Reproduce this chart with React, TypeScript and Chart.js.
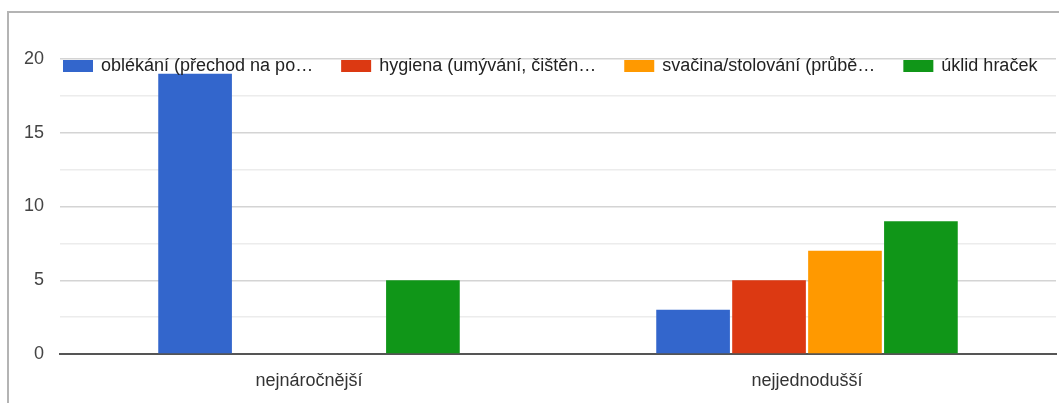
import React, { useEffect, useRef } from "react";
import { Chart, registerables } from "chart.js";

Chart.register(...registerables);

const categories = ["nejnáročnější", "nejjednodušší"];
const seriesLabels = [
  "oblékání (přechod na po…",
  "hygiena (umývání, čištěn…",
  "svačina/stolování (průbě…",
  "úklid hraček",
];
const oblekani = [19, 3];
const hygiena = [0, 5];
const svacina = [0, 7];
const uklid = [5, 9];
const colors = ["#3366cc", "#dc3912", "#ff9900", "#109618"];
const yTicks = [0, 5, 10, 15, 20];

const FONT = '"Liberation Sans", Arial, sans-serif';

const legendPlugin = {
  id: "inlineLegend",
  afterDatasetsDraw(chart: any) {
    const { ctx, chartArea } = chart;
    ctx.save();
    ctx.font = `18px ${FONT}`;
    ctx.textBaseline = "middle";
    ctx.textAlign = "left";
    let x = chartArea.left + 3;
    const y = chartArea.top + 7;
    chart.data.datasets.forEach((ds: any) => {
      ctx.fillStyle = ds.backgroundColor;
      ctx.fillRect(x, y - 6, 30, 12);
      x += 38;
      ctx.fillStyle = "#222";
      ctx.fillText(ds.label, x, y);
      x += ctx.measureText(ds.label).width + 28;
    });
    ctx.restore();
  },
};

export default function App() {
  const ref = useRef<HTMLCanvasElement>(null);
  useEffect(() => {
    if (!ref.current) return;
    const values = [oblekani, hygiena, svacina, uklid];
    const chart = new Chart(ref.current, {
      type: "bar",
      data: {
        labels: categories,
        datasets: values.map((v, i) => ({
          label: seriesLabels[i],
          data: v,
          backgroundColor: colors[i],
          borderWidth: 0,
          categoryPercentage: 0.61,
          barPercentage: 0.97,
        })),
      },
      options: {
        animation: false,
        responsive: false,
        maintainAspectRatio: false,
        layout: { padding: { left: 0, right: 3, top: 59, bottom: 11 } },
        plugins: {
          legend: { display: false },
          tooltip: { enabled: false },
        },
        scales: {
          x: {
            grid: { display: false, drawTicks: false },
            border: { display: true, color: "#555", width: 2 },
            ticks: { color: "#333", font: { family: FONT, size: 18 }, padding: 16, maxRotation: 0 },
            afterFit: (s: any) => {
              s.height = 38;
            },
          },
          y: {
            min: 0,
            max: 20,
            border: { display: false },
            grid: {
              drawTicks: false,
              color: (c: any) =>
                c.tick && c.tick.value === 0
                  ? "rgba(0,0,0,0)"
                  : yTicks.includes(c.tick?.value)
                  ? "#d4d4d4"
                  : "#ececec",
              lineWidth: 1.5,
            },
            ticks: {
              stepSize: 2.5,
              color: "#444",
              font: { family: FONT, size: 18 },
              padding: 16,
              callback: (v: any) => (yTicks.includes(Number(v)) ? String(v) : ""),
            },
            afterFit: (s: any) => {
              s.width = 60;
            },
          },
        },
      },
      plugins: [legendPlugin],
    });
    return () => chart.destroy();
  }, []);

  return (
    <div style={{ position: "fixed", left: 0, top: 0, width: 1059, height: 403, background: "#fff" }}>
      <canvas ref={ref} width={1059} height={403} style={{ position: "absolute", left: 0, top: 0 }} />
      <div
        style={{
          position: "absolute",
          left: 7,
          top: 11,
          right: 0,
          bottom: 0,
          borderLeft: "2px solid #b4b4b4",
          borderTop: "2px solid #b4b4b4",
          pointerEvents: "none",
        }}
      />
    </div>
  );
}
